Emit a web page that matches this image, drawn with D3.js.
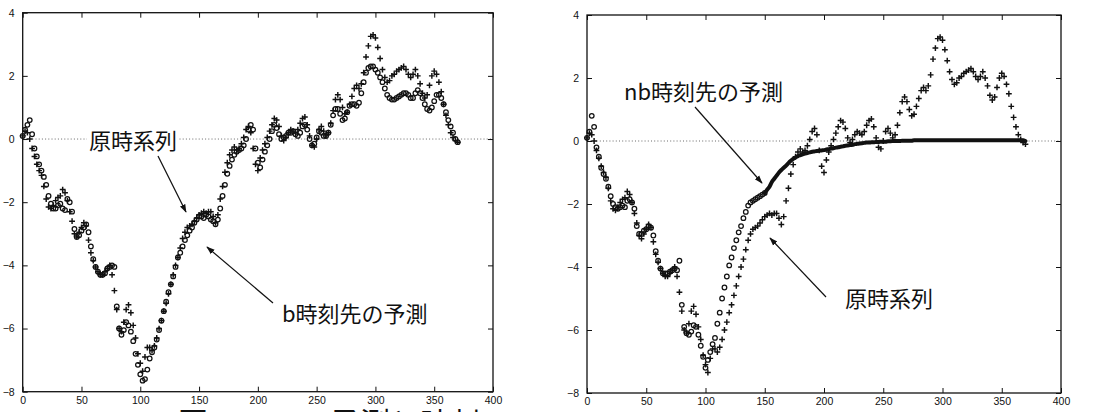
<!DOCTYPE html>
<html>
<head>
<meta charset="utf-8">
<script src="https://cdn.jsdelivr.net/npm/d3@7"></script>
<style>
  body { margin: 0; background: #fff; }
  svg { display: block; }
  .tick text { font-family: "Liberation Sans", Arial, sans-serif; font-size: 10.5px; fill: #111; }
  .note { font-family: "Noto Sans CJK JP", sans-serif; font-size: 22px; fill: #111; }
</style>
</head>
<body>
<div id="chart"></div>
<script>
// time step of the sampled series (every 2nd sample is plotted)
const timeStep = 2;

// original series (+ markers), t = 0, 2, 4, ... 370
const originalSeries = [
  0.1, 0.25, 0.2, 0.0, -0.3, -0.55, -0.8, -1.0, -1.15, -1.5,
  -1.9, -2.15, -2.2, -2.1, -1.95, -1.85, -1.8, -1.6, -1.7, -1.95,
  -2.3, -2.6, -3.0, -3.1, -2.95, -2.8, -2.65, -2.75, -3.2, -3.6,
  -3.85, -4.05, -4.2, -4.3, -4.3, -4.2, -4.1, -4.0, -4.3, -4.8,
  -5.4, -6.0, -6.1, -5.8, -5.4, -5.25, -5.5, -5.9, -6.3, -6.8,
  -7.1, -7.35, -6.9, -6.6, -6.6, -6.7, -6.55, -6.3, -6.0, -5.75,
  -5.45, -5.2, -4.9, -4.6, -4.3, -4.0, -3.75, -3.45, -3.15, -2.95,
  -2.8, -2.75, -2.7, -2.6, -2.5, -2.4, -2.35, -2.3, -2.35, -2.3,
  -2.3, -2.45, -2.65, -2.4, -1.9, -1.5, -1.05, -0.75, -0.5, -0.35,
  -0.25, -0.35, -0.3, -0.15, 0.05, 0.3, 0.4, 0.2, -0.3, -0.8,
  -1.0, -0.6, -0.35, -0.15, 0.05, 0.25, 0.45, 0.65, 0.6, 0.4,
  0.1, -0.05, 0.05, 0.2, 0.3, 0.25, 0.2, 0.3, 0.5, 0.65,
  0.7, 0.45, 0.1, -0.2, -0.25, 0.0, 0.3, 0.4, 0.25, 0.1,
  0.2, 0.5, 0.9, 1.25, 1.4, 1.25, 1.0, 0.8, 0.85, 1.1,
  1.35, 1.6, 1.7, 1.6, 1.75, 2.1, 2.6, 2.95, 3.25, 3.3,
  3.2, 2.9, 2.55, 2.2, 1.95, 1.8, 1.85, 2.0, 2.05, 2.15,
  2.2, 2.25, 2.3, 2.2, 2.05, 1.95, 2.05, 2.2, 2.0, 1.75,
  1.45, 1.3, 1.4, 1.7, 2.0, 2.15, 2.05, 1.8, 1.5, 1.1,
  0.75, 0.45, 0.2, 0.05, -0.05, -0.1
];

// b-step-ahead prediction (o markers, left panel)
const predictB = [
  0.1, 0.3, 0.45, 0.6, 0.15, -0.3, -0.55, -0.8, -1.0, -1.2,
  -1.45, -1.8, -2.05, -2.2, -2.2, -2.1, -2.05, -2.2, -2.25, -1.9,
  -2.0, -2.3, -2.85, -3.1, -3.05, -2.9, -2.8, -2.7, -2.95, -3.4,
  -3.8, -4.05, -4.2, -4.3, -4.3, -4.25, -4.1, -4.05, -4.0, -4.05,
  -5.3, -6.0, -6.2, -6.05, -5.8, -5.9, -6.1, -6.4, -6.8, -7.15,
  -7.45, -7.65, -7.6, -7.3, -6.95, -6.75, -6.6, -6.35, -6.05, -5.75,
  -5.45, -5.15, -4.85, -4.6, -4.35, -4.05, -3.75, -3.6, -3.4, -3.2,
  -3.05, -2.9, -2.8, -2.65, -2.55, -2.45, -2.45, -2.5, -2.4, -2.45,
  -2.55, -2.6, -2.7, -2.55, -2.2, -1.8, -1.45, -1.1, -0.85, -0.65,
  -0.5, -0.4, -0.35, -0.3, -0.2, 0.0, 0.3, 0.45, 0.3, -0.3,
  -0.75, -0.9, -0.65, -0.4, -0.2, 0.0, 0.25, 0.45, 0.35, 0.15,
  0.0, 0.05, 0.1, 0.2, 0.2, 0.25, 0.15, 0.1, 0.2, 0.4,
  0.45, 0.3, 0.0, -0.2, -0.15, 0.05, 0.25, 0.2, 0.1, 0.1,
  0.2, 0.45, 0.75, 0.95, 0.95, 0.8, 0.6, 0.65, 0.85, 1.05,
  1.1, 1.1, 1.05, 1.15, 1.45, 1.8, 2.1, 2.25, 2.3, 2.3,
  2.2, 2.1, 1.95, 1.8, 1.6, 1.4, 1.3, 1.25, 1.25, 1.3,
  1.35, 1.4, 1.45, 1.45, 1.4, 1.3, 1.3, 1.45, 1.55, 1.45,
  1.3, 1.1, 0.95, 0.9, 1.0, 1.2, 1.4, 1.4, 1.3, 1.1,
  0.85, 0.6, 0.4, 0.2, 0.0, -0.1
];

// nb-step-ahead prediction (right panel)
const predictNB = [
  0.1, 0.3, 0.8, 0.45, -0.2, -0.5, -0.85, -1.05, -1.2, -1.45,
  -1.75, -2.0, -2.1, -2.15, -2.1, -2.05, -2.1, -1.9, -1.85, -1.95,
  -2.15, -2.7, -2.95, -2.95, -2.85, -2.8, -2.7, -2.75, -3.0, -3.5,
  -3.8, -4.05, -4.2, -4.2, -4.2, -4.15, -4.1, -4.05, -4.1, -3.8,
  -5.2, -5.9, -6.1, -6.15, -6.05, -5.85, -5.9, -6.15, -6.5, -6.85,
  -7.2, -6.95, -6.7, -6.45, -6.25, -5.8, -5.45, -5.0, -4.65, -4.3,
  -3.95, -3.7, -3.4, -3.15, -2.9, -2.7, -2.45, -2.25, -2.05, -1.95,
  -1.9, -1.85, -1.8, -1.75, -1.7, -1.65, -1.55, -1.45, -1.3, -1.2,
  -1.1, -1.0, -0.92, -0.85, -0.78, -0.7, -0.63, -0.57, -0.52, -0.48,
  -0.45, -0.42, -0.4, -0.38, -0.36, -0.34, -0.33, -0.32, -0.31, -0.3,
  -0.29, -0.27, -0.26, -0.24, -0.23, -0.21, -0.2, -0.18, -0.17, -0.15,
  -0.14, -0.13, -0.12, -0.1, -0.09, -0.08, -0.07, -0.06, -0.05, -0.05,
  -0.04, -0.04, -0.03, -0.03, -0.02, -0.02, -0.02, -0.01, -0.01, 0.0,
  0.0, 0.0, 0.0, 0.01, 0.01, 0.01, 0.01, 0.01, 0.02, 0.02,
  0.02, 0.02, 0.02, 0.02, 0.02, 0.02, 0.02, 0.02, 0.02, 0.02,
  0.02, 0.02, 0.02, 0.02, 0.02, 0.02, 0.02, 0.02, 0.02, 0.02,
  0.02, 0.02, 0.02, 0.02, 0.02, 0.02, 0.02, 0.02, 0.02, 0.02,
  0.02, 0.02, 0.02, 0.02, 0.02, 0.02, 0.02, 0.02, 0.02, 0.02,
  0.02, 0.02, 0.02, 0.02, 0.02, 0.0
];
// from this time on the nb prediction is drawn as a thick line
const nbLineStart = 150;

const xTicks = [0, 50, 100, 150, 200, 250, 300, 350, 400];
const yTicks = [-8, -6, -4, -2, 0, 2, 4];

const W = 1109, H = 412;

const svg = d3.select("#chart").append("svg")
  .attr("width", W).attr("height", H);
svg.append("rect").attr("width", W).attr("height", H).attr("fill", "#fff");

const panels = [
  { box: [22.7, 12.7, 493, 391.7], pred: predictB, kind: "b" },
  { box: [587, 15, 1061, 393], pred: predictNB, kind: "nb" }
];

const toPoints = arr => arr.map((v, i) => ({ t: i * timeStep, v: v }));
const plusPath = "M-2.9,0H2.9M0,-2.9V2.9";

panels.forEach(p => {
  const [x0, y0, x1, y1] = p.box;
  const x = d3.scaleLinear().domain([0, 400]).range([x0, x1]);
  const y = d3.scaleLinear().domain([-8, 4]).range([y1, y0]);
  const g = svg.append("g");

  // zero line (dotted)
  g.append("line")
    .attr("x1", x(0)).attr("x2", x(400))
    .attr("y1", y(0)).attr("y2", y(0))
    .attr("stroke", "#444").attr("stroke-width", 0.8)
    .attr("stroke-dasharray", "1,2.2");

  // axes, ticks pointing inward, mirrored on top/right
  g.append("g").attr("transform", `translate(0,${y1})`)
    .call(d3.axisBottom(x).tickValues(xTicks).tickSize(-5).tickPadding(5))
    .call(s => s.select(".domain").remove());
  g.append("g").attr("transform", `translate(0,${y0})`)
    .call(d3.axisTop(x).tickValues(xTicks).tickSize(-5).tickFormat(""))
    .call(s => s.select(".domain").remove());
  g.append("g").attr("transform", `translate(${x0},0)`)
    .call(d3.axisLeft(y).tickValues(yTicks).tickSize(-5).tickPadding(8))
    .call(s => s.select(".domain").remove());
  g.append("g").attr("transform", `translate(${x1},0)`)
    .call(d3.axisRight(y).tickValues(yTicks).tickSize(-5).tickFormat(""))
    .call(s => s.select(".domain").remove());
  g.selectAll(".tick line").attr("stroke", "#111").attr("stroke-width", 1);

  g.append("rect")
    .attr("x", x0).attr("y", y0)
    .attr("width", x1 - x0).attr("height", y1 - y0)
    .attr("fill", "none").attr("stroke", "#111").attr("stroke-width", 1.3);

  // prediction series
  const pred = toPoints(p.pred);
  const circ = p.kind === "nb" ? pred.filter(d => d.t <= nbLineStart) : pred;
  g.selectAll(".pred").data(circ).join("circle")
    .attr("class", "pred")
    .attr("cx", d => x(d.t)).attr("cy", d => y(d.v))
    .attr("r", 2.3)
    .attr("fill", "none").attr("stroke", "#111").attr("stroke-width", 1.25);

  if (p.kind === "nb") {
    const line = d3.line().x(d => x(d.t)).y(d => y(d.v)).curve(d3.curveMonotoneX);
    g.append("path")
      .datum(pred.filter(d => d.t >= nbLineStart))
      .attr("d", line)
      .attr("fill", "none").attr("stroke", "#111").attr("stroke-width", 4)
      .attr("stroke-linecap", "round");
  }

  // original series
  g.selectAll(".orig").data(toPoints(originalSeries)).join("path")
    .attr("class", "orig")
    .attr("transform", d => `translate(${x(d.t)},${y(d.v)})`)
    .attr("d", plusPath)
    .attr("stroke", "#111").attr("stroke-width", 1.45);
});

// annotations: label text + arrow
const notes = [
  { text: "原時系列", x: 89, y: 149, from: [158, 156], to: [186, 212] },
  { text: "b時刻先の予測", x: 282, y: 322, from: [273, 303], to: [207, 247] },
  { text: "nb時刻先の予測", x: 624, y: 100, from: [695, 107], to: [762, 183] },
  { text: "原時系列", x: 845, y: 307, from: [826, 297], to: [770, 238] }
];

const defs = svg.append("defs");
defs.append("marker")
  .attr("id", "head").attr("viewBox", "0 0 10 10")
  .attr("refX", 9).attr("refY", 5)
  .attr("markerWidth", 7).attr("markerHeight", 7)
  .attr("orient", "auto")
  .append("path").attr("d", "M0,1.5L10,5L0,8.5Z").attr("fill", "#111");

notes.forEach(n => {
  const t = svg.append("text").attr("class", "note")
    .attr("x", n.x).attr("y", n.y).text(n.text);
  const bb = t.node().getBBox();
  svg.insert("rect", () => t.node())
    .attr("x", bb.x - 2).attr("y", bb.y + 3)
    .attr("width", bb.width + 4).attr("height", bb.height - 6)
    .attr("fill", "#fff");
  svg.append("line")
    .attr("x1", n.from[0]).attr("y1", n.from[1])
    .attr("x2", n.to[0]).attr("y2", n.to[1])
    .attr("stroke", "#111").attr("stroke-width", 1.2)
    .attr("marker-end", "url(#head)");
});

// figure caption, mostly cut off by the bottom edge
svg.append("text").attr("class", "note")
  .attr("x", 178).attr("y", 434).style("font-size", "30px")
  .text("図");
svg.append("text").attr("class", "note")
  .attr("x", 330).attr("y", 434).style("font-size", "30px")
  .text("予測と時刻");
</script>
</body>
</html>
